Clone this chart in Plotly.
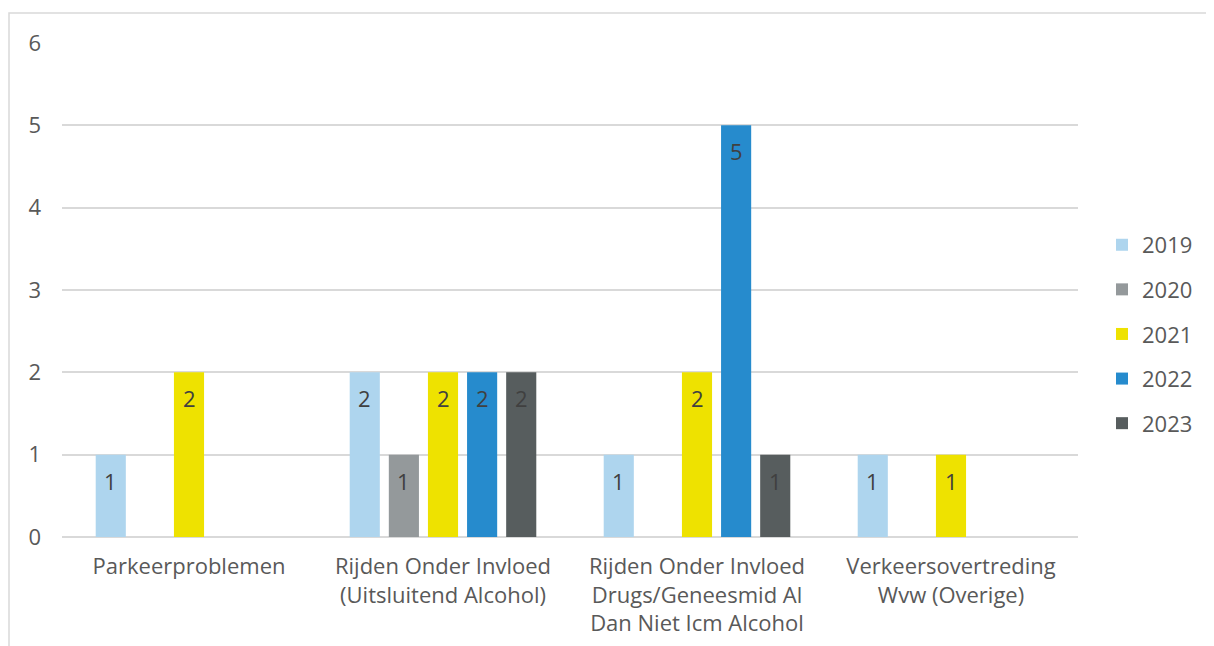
import plotly.graph_objects as go

categories = [
    "Parkeerproblemen",
    "Rijden Onder Invloed<br>(Uitsluitend Alcohol)",
    "Rijden Onder Invloed<br>Drugs/Geneesmid Al<br>Dan Niet Icm Alcohol",
    "Verkeersovertreding<br>Wvw (Overige)",
]
years = ["2019", "2020", "2021", "2022", "2023"]
v2019 = [1, 2, 1, 1]
v2020 = [None, 1, None, None]
v2021 = [2, 2, 2, 1]
v2022 = [None, 2, 5, None]
v2023 = [None, 2, 1, None]
series = [v2019, v2020, v2021, v2022, v2023]
colors = ["#AED5EE", "#94999B", "#EEE200", "#268BCD", "#575D5E"]

W, H = 1214, 646
ML, MR, MT, MB = 54, 144, 35, 117
BARGAP = 0.23
FONT = "Open Sans"
FS = 22

fig = go.Figure()
for i, (yr, vals, col) in enumerate(zip(years, series, colors)):
    fig.add_trace(go.Bar(
        x=categories, y=vals, name=yr, marker_color=col,
        marker_line_width=0, legendgroup=yr,
    ))

# value labels inside top of bars
plot_w = W - ML - MR
plot_h = H - MT - MB
pitch = plot_w / len(categories) * (1 - BARGAP) / len(years)
for i, vals in enumerate(series):
    for cat, v in zip(categories, vals):
        if v is None:
            continue
        fig.add_annotation(
            x=cat, y=v, text=str(v), showarrow=False,
            xshift=(i - (len(years) - 1) / 2) * pitch, yshift=-26,
            font=dict(family=FONT, size=FS, color="#404040"),
        )

fig.add_shape(
    type="rect", xref="paper", yref="paper",
    x0=(1 - ML) / plot_w, x1=1.3,
    y0=-0.5, y1=(H - MB - 5) / plot_h,
    line=dict(color="#D9D9D9", width=1.5), layer="below",
)

fig.update_layout(
    width=W, height=H,
    margin=dict(l=ML, r=MR, t=MT, b=MB),
    paper_bgcolor="white", plot_bgcolor="white",
    barmode="group", bargap=BARGAP, bargroupgap=0.23,
    font=dict(family=FONT, size=FS, color="#595959"),
    legend=dict(
        x=(1094 - ML) / plot_w, xanchor="left",
        y=0.411, yanchor="middle",
        font=dict(family=FONT, size=FS, color="#595959"),
        tracegroupgap=13, itemwidth=30,
    ),
    xaxis=dict(
        showgrid=False, showline=False, ticks="",
        tickfont=dict(size=FS, color="#595959"),
        ticklabelstandoff=14,
    ),
    yaxis=dict(
        range=[0, 6], dtick=1, showgrid=True,
        gridcolor="#D9D9D9", gridwidth=1.5,
        zeroline=True, zerolinecolor="#D9D9D9", zerolinewidth=1.5,
        showline=False, ticks="",
        tickfont=dict(size=FS, color="#595959"),
        ticklabelstandoff=20,
    ),
)

fig.write_html("out.html")
